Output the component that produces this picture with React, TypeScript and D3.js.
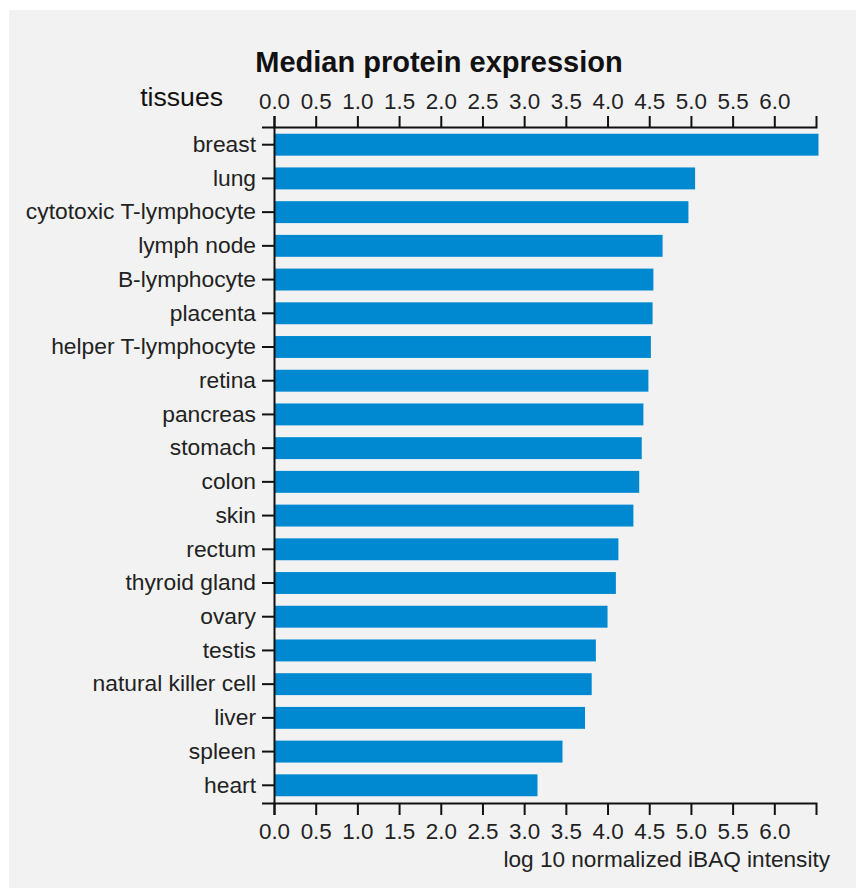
import React, { useEffect, useRef } from "react";
import * as d3 from "d3";

const tissues = [
  "breast",
  "lung",
  "cytotoxic T-lymphocyte",
  "lymph node",
  "B-lymphocyte",
  "placenta",
  "helper T-lymphocyte",
  "retina",
  "pancreas",
  "stomach",
  "colon",
  "skin",
  "rectum",
  "thyroid gland",
  "ovary",
  "testis",
  "natural killer cell",
  "liver",
  "spleen",
  "heart",
];

const expression = [
  6.53, 5.05, 4.97, 4.66, 4.55, 4.54, 4.52, 4.49, 4.43, 4.41, 4.38, 4.31, 4.13,
  4.1, 4.0, 3.86, 3.81, 3.73, 3.46, 3.16,
];

const xTicks = [0, 0.5, 1, 1.5, 2, 2.5, 3, 3.5, 4, 4.5, 5, 5.5, 6];
const xDomainMax = 6.5;

const titleText = "Median protein expression";
const yTitle = "tissues";
const xTitle = "log 10 normalized iBAQ intensity";

const FONT = "'Liberation Sans', Arial, Helvetica, sans-serif";

export default function App() {
  const gRef = useRef<SVGGElement | null>(null);

  const W = 856;
  const H = 888;
  const left = 274;
  const right = 816;
  const top = 127;
  const bottom = 803;

  const x = d3.scaleLinear().domain([0, xDomainMax]).range([left, right]);
  const y = d3
    .scaleBand<string>()
    .domain(tissues)
    .range([top, bottom])
    .paddingInner(0.35)
    .paddingOuter(0.2);

  useEffect(() => {
    if (!gRef.current) return;
    const g = d3.select(gRef.current);
    g.selectAll("*").remove();

    const fmt = d3.format(".1f");

    const topAxis = d3
      .axisTop(x)
      .tickValues(xTicks)
      .tickFormat((d) => fmt(d as number))
      .tickSize(11)
      .tickSizeOuter(11)
      .tickPadding(7);
    const bottomAxis = d3
      .axisBottom(x)
      .tickValues(xTicks)
      .tickFormat((d) => fmt(d as number))
      .tickSize(12)
      .tickSizeOuter(12)
      .tickPadding(8);
    const leftAxis = d3
      .axisLeft(y)
      .tickSize(12)
      .tickSizeOuter(12)
      .tickPadding(6);

    const style = (fs: number) => (sel: d3.Selection<SVGGElement, unknown, null, undefined>) => {
      sel.attr("font-family", FONT).attr("font-size", fs);
      sel.selectAll("path").attr("stroke", "#111").attr("stroke-width", 2);
      sel.selectAll("line").attr("stroke", "#111").attr("stroke-width", 2);
      sel.selectAll("text").attr("fill", "#222");
    };

    g.append("g").attr("transform", `translate(0,${top})`).call(topAxis).call(style(22.4));
    g.append("g").attr("transform", `translate(0,${bottom})`).call(bottomAxis).call(style(22.4));
    g.append("g").attr("transform", `translate(${left},0)`).call(leftAxis).call(style(22.8));
  }, []);

  return (
    <svg
      width={W}
      height={H}
      style={{ position: "absolute", left: 0, top: 0, display: "block" }}
    >
      <rect x={0} y={0} width={W} height={H} fill="#ffffff" />
      <rect x={9} y={10} width={W - 9} height={H - 10} fill="#f2f2f2" />
      <text
        x={439}
        y={72}
        textAnchor="middle"
        fontFamily={FONT}
        fontWeight="bold"
        fontSize={29}
        fill="#111"
      >
        {titleText}
      </text>
      <text x={223} y={106} textAnchor="end" fontFamily={FONT} fontSize={26.6} fill="#111">
        {yTitle}
      </text>
      <g>
        {tissues.map((t, i) => (
          <rect
            key={t}
            x={x(0)}
            y={y(t) as number}
            width={x(expression[i]) - x(0)}
            height={y.bandwidth()}
            fill="#0089d0"
          />
        ))}
      </g>
      <g ref={gRef} />
      <text x={830} y={867} textAnchor="end" fontFamily={FONT} fontSize={22.6} fill="#222">
        {xTitle}
      </text>
    </svg>
  );
}
